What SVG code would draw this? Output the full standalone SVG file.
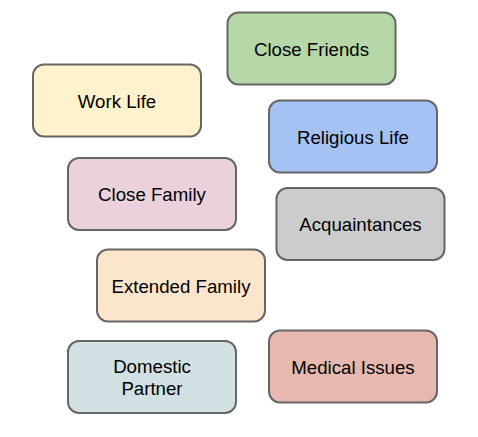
<svg xmlns="http://www.w3.org/2000/svg" width="478" height="437" viewBox="0 0 478 437">
<style>
.box{stroke:#666666;stroke-width:2}
.t{font-family:"Liberation Sans",Arial,sans-serif;font-size:18.67px;fill:#000000;text-anchor:middle}
</style>
<rect width="478" height="437" fill="#ffffff"/>
<g id="connectors"></g>
<g id="close-friends"><rect class="box" x="227.5" y="12.5" width="168" height="72" rx="11" fill="#b6d7a8"/><text class="t" x="311.5" y="55.5">Close Friends</text></g>
<g id="work-life"><rect class="box" x="33" y="64.5" width="168" height="72" rx="11" fill="#fff2cc"/><text class="t" x="117" y="107.5">Work Life</text></g>
<g id="religious-life"><rect class="box" x="269" y="100.5" width="168" height="72" rx="11" fill="#a4c2f4"/><text class="t" x="353" y="143.5">Religious Life</text></g>
<g id="close-family"><rect class="box" x="68" y="158" width="168" height="72" rx="11" fill="#ead1dc"/><text class="t" x="152" y="201">Close Family</text></g>
<g id="acquaintances"><rect class="box" x="276.5" y="188" width="168" height="72" rx="11" fill="#cccccc"/><text class="t" x="360.5" y="231">Acquaintances</text></g>
<g id="extended-family"><rect class="box" x="97" y="249.5" width="168" height="72" rx="11" fill="#fce5cd"/><text class="t" x="181" y="292.5">Extended Family</text></g>
<g id="domestic-partner"><rect class="box" x="68" y="341" width="168" height="72" rx="11" fill="#d0e0e3"/><text class="t" x="152" y="373">Domestic</text><text class="t" x="152" y="395">Partner</text></g>
<g id="medical-issues"><rect class="box" x="269" y="330.5" width="168" height="72" rx="11" fill="#e6b8af"/><text class="t" x="353" y="373.5">Medical Issues</text></g>
</svg>
